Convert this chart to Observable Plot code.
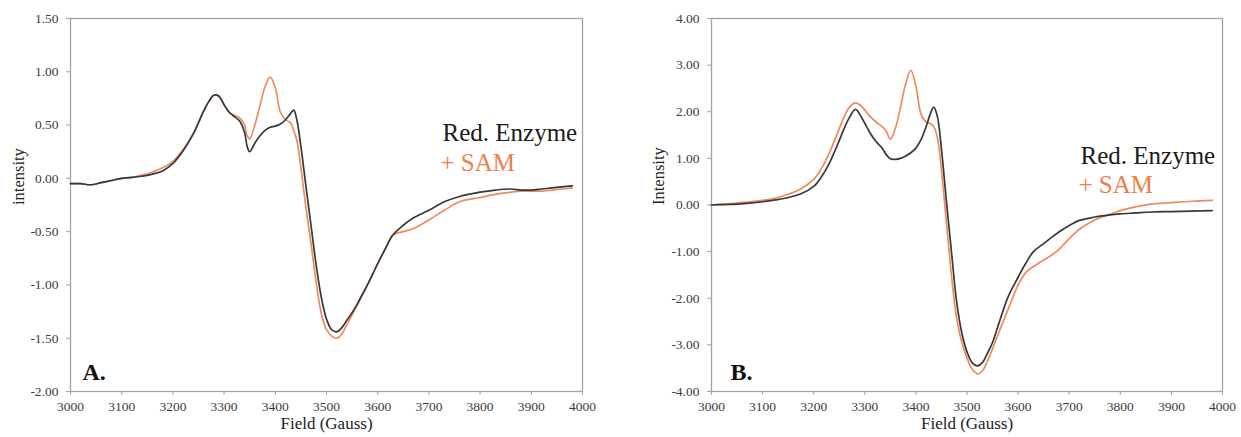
<!DOCTYPE html>
<html><head><meta charset="utf-8">
<script src="https://cdn.jsdelivr.net/npm/d3@7"></script>
<script src="https://cdn.jsdelivr.net/npm/@observablehq/plot@0.6"></script>
<style>
body{margin:0;background:#fff;}
#wrap{position:relative;width:1241px;height:437px;overflow:hidden;background:#fff;}
#wrap svg{position:absolute;top:0;}
#wrap svg, #wrap svg text, #wrap svg g {font-family:"Liberation Serif","DejaVu Serif","Times New Roman",serif !important;}
</style></head><body><div id="wrap"></div>
<script>
// ---- Panel A data ----
const fieldA = [3000,3020,3040,3060,3080,3100,3120,3140,3160,3180,3200,3220,3240,3260,3270,3280,3290,3300,3310,3320,3330,3340,3345,3350,3360,3370,3380,3390,3400,3410,3420,3430,3436,3442,3450,3460,3470,3480,3490,3500,3510,3520,3530,3540,3550,3560,3570,3580,3590,3600,3615,3630,3650,3670,3700,3730,3760,3800,3830,3860,3880,3900,3920,3940,3960,3980];
const redA = [-0.05,-0.05,-0.06,-0.04,-0.02,0.00,0.01,0.02,0.04,0.07,0.14,0.26,0.42,0.63,0.72,0.78,0.77,0.69,0.62,0.58,0.54,0.43,0.30,0.25,0.33,0.40,0.45,0.48,0.49,0.51,0.55,0.61,0.64,0.55,0.30,-0.08,-0.45,-0.82,-1.12,-1.32,-1.42,-1.44,-1.40,-1.33,-1.26,-1.18,-1.09,-1.00,-0.90,-0.80,-0.66,-0.53,-0.44,-0.37,-0.30,-0.22,-0.17,-0.13,-0.11,-0.10,-0.11,-0.11,-0.10,-0.09,-0.08,-0.07];
const samA = [-0.05,-0.05,-0.06,-0.04,-0.02,0.00,0.01,0.03,0.06,0.10,0.16,0.27,0.42,0.63,0.72,0.78,0.77,0.69,0.62,0.59,0.57,0.50,0.40,0.37,0.50,0.68,0.86,0.95,0.85,0.62,0.55,0.52,0.45,0.36,0.10,-0.28,-0.62,-0.98,-1.27,-1.42,-1.48,-1.50,-1.46,-1.37,-1.28,-1.19,-1.09,-1.00,-0.90,-0.80,-0.66,-0.53,-0.50,-0.47,-0.39,-0.30,-0.22,-0.18,-0.15,-0.13,-0.12,-0.12,-0.12,-0.11,-0.10,-0.09];
const yTicksA = [-2,-1.5,-1,-0.5,0,0.5,1,1.5];

// ---- Panel B data ----
const fieldB = [3000,3025,3050,3075,3100,3125,3150,3175,3200,3215,3230,3245,3260,3270,3282,3295,3310,3322,3334,3342,3350,3360,3370,3380,3390,3400,3410,3420,3428,3435,3442,3450,3460,3470,3480,3490,3500,3510,3520,3530,3540,3550,3560,3580,3600,3615,3630,3650,3665,3680,3700,3720,3740,3760,3780,3800,3830,3860,3900,3940,3980];
const redB = [0.00,0.01,0.02,0.04,0.07,0.11,0.16,0.24,0.40,0.60,0.88,1.25,1.65,1.88,2.05,1.85,1.55,1.36,1.22,1.08,0.99,0.98,1.00,1.05,1.12,1.22,1.40,1.68,1.95,2.10,1.90,1.20,0.05,-1.05,-2.10,-2.75,-3.15,-3.38,-3.45,-3.38,-3.18,-2.95,-2.62,-1.98,-1.55,-1.25,-1.00,-0.83,-0.70,-0.58,-0.44,-0.33,-0.28,-0.24,-0.21,-0.19,-0.17,-0.15,-0.14,-0.13,-0.12];
const samB = [0.00,0.02,0.04,0.07,0.10,0.15,0.23,0.35,0.55,0.78,1.10,1.50,1.90,2.10,2.19,2.10,1.90,1.78,1.68,1.58,1.41,1.65,2.10,2.60,2.89,2.55,1.95,1.78,1.75,1.68,1.45,0.75,-0.40,-1.55,-2.45,-2.95,-3.28,-3.52,-3.62,-3.56,-3.35,-3.08,-2.80,-2.25,-1.72,-1.45,-1.32,-1.18,-1.08,-0.95,-0.72,-0.52,-0.38,-0.27,-0.20,-0.12,-0.04,0.02,0.05,0.08,0.10];
const yTicksB = [-4,-3,-2,-1,0,1,2,3,4];

const xTicks = [3000,3100,3200,3300,3400,3500,3600,3700,3800,3900,4000];
const seriesNames = ["Red. Enzyme", "+ SAM"];
const colors = {"Red. Enzyme": "#383838", "+ SAM": "#EE8A60"};
const textColors = {"Red. Enzyme": "#1a1a1a", "+ SAM": "#EE7E4C"};

const grey = "#a3a3a3";

function makePanel(o) {
  const red = o.field.map((f, i) => ({field: f, v: o.red[i]}));
  const sam = o.field.map((f, i) => ({field: f, v: o.sam[i]}));
  const svg = Plot.plot({
    width: o.width, height: 437,
    marginLeft: o.marginLeft, marginRight: o.marginRight, marginTop: 18, marginBottom: 46,
    style: {background: "transparent", overflow: "visible"},
    x: {domain: [3000, 4000]},
    y: {domain: o.yDomain},
    marks: [
      Plot.frame({stroke: grey, strokeWidth: 1.3}),
      Plot.axisY({ticks: o.yTicks, tickFormat: d => d.toFixed(2), tickSize: 4, tickPadding: 8,
        label: null, stroke: grey, fill: "#3c3c3c", fontSize: 13.5}),
      Plot.axisX({ticks: xTicks, tickFormat: d => String(d), tickSize: 4, tickPadding: 6,
        label: null, stroke: grey, fill: "#3c3c3c", fontSize: 13.5}),
      Plot.line(sam, {x: "field", y: "v", stroke: colors["+ SAM"], strokeWidth: 1.7, curve: "catmull-rom"}),
      Plot.line(red, {x: "field", y: "v", stroke: colors["Red. Enzyme"], strokeWidth: 1.7, curve: "catmull-rom"}),
      Plot.text([o.yLabel], {frameAnchor: "left", dx: o.yLabelDx, rotate: -90, fontSize: 16.5, fill: "#222"}),
      Plot.text(["Field (Gauss)"], {frameAnchor: "bottom", dy: 37, fontSize: 17, fill: "#222"}),
      Plot.text([seriesNames[0]], {frameAnchor: "top-right", textAnchor: "start", lineAnchor: "bottom",
        dx: o.legDx[0], dy: o.legDy[0], fontSize: 25, fill: textColors[seriesNames[0]]}),
      Plot.text([seriesNames[1]], {frameAnchor: "top-right", textAnchor: "start", lineAnchor: "bottom",
        dx: o.legDx[1], dy: o.legDy[1], fontSize: 25, fill: textColors[seriesNames[1]]}),
      Plot.text([o.letter], {frameAnchor: "bottom-left", textAnchor: "start", lineAnchor: "bottom",
        dx: o.letterDx, dy: -12, fontSize: 24, fontWeight: "bold", fill: "#111"})
    ]
  });
  svg.style.left = o.left + "px";
  return svg;
}

const wrap = document.getElementById("wrap");
wrap.appendChild(makePanel({
  field: fieldA, red: redA, sam: samA, yDomain: [-2, 1.5], yTicks: yTicksA,
  yLabel: "intensity", yLabelDx: -52, letter: "A.", letterDx: 12,
  width: 620, marginLeft: 70, marginRight: 38, left: 0,
  legDx: [-140, -142], legDy: [122, 152]
}));
wrap.appendChild(makePanel({
  field: fieldB, red: redB, sam: samB, yDomain: [-4, 4], yTicks: yTicksB,
  yLabel: "Intensity", yLabelDx: -53, letter: "B.", letterDx: 19,
  width: 621, marginLeft: 91, marginRight: 19, left: 620,
  legDx: [-142, -144], legDy: [145, 174]
}));
</script>
</body></html>
